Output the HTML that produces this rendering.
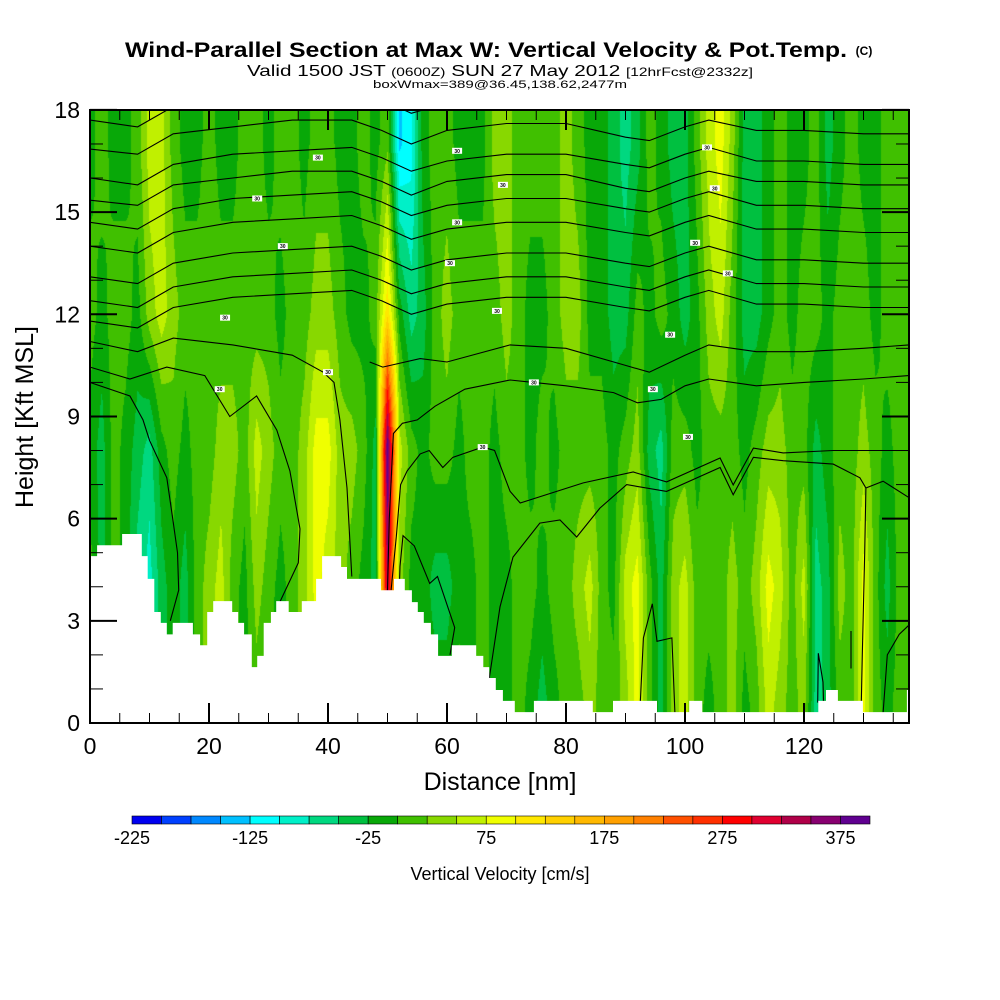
<!DOCTYPE html>
<html><head><meta charset="utf-8">
<style>
html,body{margin:0;padding:0;background:#fff;width:1000px;height:1000px;overflow:hidden}
#wrap{position:relative;width:1000px;height:1000px}
canvas{position:absolute;left:90px;top:110px}
svg{position:absolute;left:0;top:0}
text{font-family:"Liberation Sans",sans-serif;fill:#000}
</style></head>
<body>
<div id="wrap">
<canvas id="field" width="819" height="613"></canvas>
<svg id="svg" width="1000" height="1000">
<defs><clipPath id="plotclip"><rect x="90" y="110" width="819" height="613"/></clipPath></defs>
<g id="contours" clip-path="url(#plotclip)"></g>
<g id="terrain" clip-path="url(#plotclip)"></g>
<g id="labels" clip-path="url(#plotclip)"></g>
<rect x="90" y="110" width="819" height="613" fill="none" stroke="#000" stroke-width="2"/>
<g id="ticks"></g>
<text x="486" y="57" text-anchor="middle" font-weight="bold" font-size="21" textLength="722" lengthAdjust="spacingAndGlyphs">Wind-Parallel Section at Max W: Vertical Velocity &amp; Pot.Temp.</text>
<text x="864" y="55" text-anchor="middle" font-weight="bold" font-size="12">(C)</text>
<text x="500" y="76" text-anchor="middle" font-size="16" textLength="506" lengthAdjust="spacingAndGlyphs">Valid 1500 JST <tspan font-size="12">(0600Z)</tspan> SUN 27 May 2012 <tspan font-size="12">[12hrFcst@2332z]</tspan></text>
<text x="500" y="88" text-anchor="middle" font-size="11" textLength="254" lengthAdjust="spacingAndGlyphs">boxWmax=389@36.45,138.62,2477m</text>
<text x="500" y="790" text-anchor="middle" font-size="25">Distance [nm]</text>
<text x="0" y="0" transform="translate(33,417) rotate(-90)" text-anchor="middle" font-size="25">Height [Kft MSL]</text>
<g id="colorbar"></g>
<text x="500" y="880" text-anchor="middle" font-size="18">Vertical Velocity [cm/s]</text>
</svg>
</div>
<script>
// ---- data ----
const distances = [0,2,4,6,8,10,12,14,16,18,20,22,24,26,28,30,32,34,36,38,40,42,44,46,48,50,52,54,56,58,60,62,64,66,68,70,72,74,76,78,80,82,84,86,88,90,92,94,96,98,100,102,104,106,108,110,112,114,116,118,120,122,124,126,128,130,132,134,136,138];
const levels = [0.5,4,8,12,17];
const w05 = [12,12,12,12,-37,-87,-37,-10,-37,12, 37,62,12,-10,12,-10,-10,12,37,62, 62,12,-10,-10,-37,200,12,-10,-10,-10, -10,12,-10,12,-10,-10,12,-10,-37,-10, 12,12,37,12,12,37,87,12,-37,37, 62,12,-10,12,37,-10,12,62,37,12, 37,-62,-37,12,12,87,12,-10,12,12];
const w4 = [12,-37,12,-10,-62,-87,-37,-10,-37,12, 37,62,12,-10,37,12,-10,12,37,87, 62,37,12,-10,-37,340,37,-10,-10,-37, -37,-10,-10,12,-10,-10,12,12,-10,12, 12,37,62,12,-10,62,87,12,-37,37, 62,12,12,12,37,12,37,87,62,12, 62,-62,-37,37,12,87,12,-37,12,12];
const w8 = [-10,-37,12,-10,-37,-62,-10,12,-10,12, 12,37,37,12,62,37,12,12,37,87, 87,37,37,12,-37,400,62,12,-10,12, 12,-10,12,12,-10,12,12,-10,12,-10, 12,12,12,12,-10,12,37,-37,-62,12, 12,-10,12,12,12,-10,12,37,37,12, 12,-37,-10,12,12,37,12,-10,12,12];
const w12 = [12,-10,12,12,-10,37,62,37,12,12, 12,12,12,12,12,12,-10,12,12,37, 37,12,-10,-10,12,120,-10,-62,-37,12, 37,12,12,12,12,37,12,-10,-10,12, 37,37,-10,-10,-37,-37,12,-10,12,-10, -37,-10,37,62,12,-37,-37,-10,12,-10, 12,12,-10,12,12,12,-10,12,12,12];
const w17 = [-10,12,-10,-10,12,62,62,12,-10,-10, 12,-10,-10,12,12,-10,12,12,-10,12, 12,-10,-10,12,-10,20,-130,-110,-10,12, 12,-10,-10,-10,37,37,12,12,12,12, 37,12,-10,-10,-37,-62,-37,12,-10,-37, -37,12,62,87,37,-37,-37,-10,12,-10, -10,12,-37,-10,12,-10,-10,12,12,12];

const terrainStart = [0,1.2,5.4,8.7,9.7,10.8,11.9,12.9,13.9,17.3,18.5,19.7,20.7,23.9,24.9,25.9,27.2,28.1,29.2,30.4,31.3,33.4,35.6,38.0,39.0,42.2,43.2,48.9,51.1,52.9,54.1,55.1,56.1,57.3,58.5,60.8,64.9,66.1,67.1,68.2,69.4,71.4,74.6,84.5,87.9,95.3,100.7,102.9,122.4,123.7,125.7,129.9,137.3];
const terrainHeight = [4.9,5.22,5.55,4.9,4.23,3.26,2.94,2.6,2.94,2.6,2.28,3.26,3.58,3.26,2.94,2.6,1.64,1.97,2.94,3.26,3.58,3.26,3.58,4.23,4.9,4.58,4.23,3.9,4.23,3.9,3.55,3.26,2.94,2.6,1.97,2.28,1.97,1.64,1.32,0.97,0.65,0.32,0.65,0.32,0.65,0.32,0.65,0.32,0.65,0.97,0.65,0.32,0.97];

const contourX = [0,8,14,24,34,44,49,54,60,70,80,90,94,100,104,112,120,130,137.6];
const theta1 = [17.7,17.5,18.1,18.4,18.5,18.6,18.3,17.9,18.2,18.4,18.4,18.1,18.0,18.4,18.6,18.2,18.2,18.1,18.1];
const theta2 = [16.85,16.7,17.3,17.5,17.7,17.7,17.4,17.0,17.4,17.6,17.6,17.2,17.1,17.5,17.7,17.4,17.4,17.3,17.3];
const theta3 = [16.0,15.8,16.4,16.7,16.8,16.9,16.6,16.2,16.5,16.7,16.7,16.4,16.3,16.7,16.9,16.5,16.5,16.4,16.4];
const theta4 = [15.35,15.2,15.8,16.0,16.2,16.2,15.9,15.5,15.9,16.1,16.1,15.7,15.6,16.0,16.2,15.9,15.9,15.8,15.8];
const theta5 = [14.7,14.5,15.1,15.4,15.5,15.6,15.3,14.9,15.2,15.4,15.4,15.1,15.0,15.4,15.6,15.2,15.2,15.1,15.1];
const theta6 = [14.0,13.8,14.4,14.7,14.8,14.9,14.6,14.2,14.5,14.7,14.7,14.4,14.3,14.7,14.9,14.5,14.5,14.4,14.4];
const theta7 = [13.1,12.9,13.5,13.8,13.9,14.0,13.7,13.3,13.6,13.8,13.8,13.5,13.4,13.8,14.0,13.6,13.6,13.5,13.5];
const theta8 = [12.4,12.2,12.8,13.1,13.2,13.3,13.0,12.6,12.9,13.1,13.1,12.8,12.7,13.1,13.3,12.9,12.9,12.8,12.8];
const theta9 = [11.8,11.6,12.2,12.5,12.6,12.7,12.4,12.0,12.3,12.5,12.5,12.2,12.1,12.5,12.7,12.3,12.3,12.2,12.2];

const lowerContours = [
 [[0,10.0],[6.7,9.6],[8.9,8.9],[10,8.3],[12.9,7.2],[13.9,6.0],[14.7,5.0],[14.9,3.9],[13.5,3.0]],
 [[0,10.45],[6.7,10.1],[12.9,10.45],[19.3,10.2],[23.5,9.0],[28,9.6],[31.4,8.6],[33.6,7.4],[35.3,5.7],[35,4.7],[31.9,3.55]],
 [[0,11.2],[8,10.9],[14,11.3],[24,11.1],[34,10.8],[39.2,10.3],[41,10.0],[42,8.9],[43.2,6.9],[44,4.3]],
 [[47,10.6],[49.2,10.45],[55.5,10.7],[60,10.6],[70.6,11.1],[80,11.0],[90,10.5],[94,10.3],[100,10.8],[104,11.1],[112,10.9],[120,10.9],[130,11.0],[137.6,11.1]],
 [[50,3.9],[50.3,6.0],[51,8.5],[52.5,8.8],[55,8.9],[58,9.3],[63,9.8],[70.6,10.07],[80,9.9],[88,9.7],[92,9.4],[96,9.5],[100,9.9],[104,10.1],[112,9.9],[120,10.0],[130,10.1],[137.6,10.2]],
 [[50.6,3.9],[51.5,5.5],[52.2,7.0],[53.3,7.4],[55.5,7.9],[57,8.0],[59.3,7.5],[61,7.8],[66,8.1],[68,8.0],[70.6,6.8],[72.3,6.46],[82.9,7.05],[91.3,7.37],[96.9,7.08],[105.9,7.78],[108.1,6.99],[111.5,8.07],[116.5,7.93],[124.9,8.0],[137.8,8.0]],
 [[52.0,4.0],[52.1,4.6],[52.6,5.5],[54.5,5.2],[57.1,4.1],[58.4,4.3],[61.3,2.8],[60.5,2.0]],
 [[67,1.2],[68.9,3.41],[71.1,4.87],[75.6,5.87],[79,5.96],[81.8,5.46],[85.7,6.31],[90.2,7.0],[96.9,6.8],[105.9,7.5],[108.1,6.7],[111.5,7.8],[116.5,7.7],[124.9,7.6],[129.4,7.2],[130.4,6.9],[130.2,5],[129.8,2],[129.6,0.3]],
 [[130.4,6.9],[133.3,7.1],[137.8,6.6]],
 [[92.4,0.3],[93,2.5],[94.5,3.5],[95.3,2.4],[97.8,2.5],[98.3,0.3]],
 [[133.3,0.3],[134,2.0],[136,2.6],[137.8,2.9]],
 [[122.3,0.6],[122.4,2.05],[123.2,1.2],[123.3,0.6]],
 [[127.9,2.7],[127.9,1.6]]
];
const labelNm = [38.3,61.7,69.4,103.7,28.1,61.7,105.0,32.4,60.5,101.7,107.2,68.4,22.7,97.5,40.0,94.6,74.6,21.8,66.0,100.5];
const labelKft = [16.6,16.8,15.8,16.9,15.4,14.7,15.7,14.0,13.5,14.1,13.2,12.1,11.9,11.4,10.3,9.8,10.0,9.8,8.1,8.4];

const colorLevels = [-225,-200,-175,-150,-125,-100,-75,-50,-25,0,25,50,75,100,125,150,175,200,225,250,275,300,325,350,375,400];
const colors = ['#0000f0','#0040ff','#0088ff','#00c0ff','#00ffff','#00f0c8','#00d880','#00c040','#08a808','#40c000','#88d800','#c0f000','#f0ff00','#ffe800','#ffd000','#ffb800','#ffa000','#ff8000','#ff5000','#ff3000','#ff0000','#e00030','#b00048','#880070','#600090'];
const cbLabels = [-225,-125,-25,75,175,275,375];
const yTicks = [0,3,6,9,12,15,18];
const xTicks = [0,20,40,60,80,100,120];

// ---- scales ----
const X = nm => 90 + nm*5.95;
const Y = k => 723 - k*34.06;
const NS = 'http://www.w3.org/2000/svg';
function mk(tag, attrs, parent){const e=document.createElementNS(NS,tag);for(const k in attrs)e.setAttribute(k,attrs[k]);parent.appendChild(e);return e;}

// ---- field ----
const rows = [w05,w4,w8,w12,w17];
function wAt(nm,h){
  let i=Math.floor(nm/2); if(i<0)i=0; if(i>distances.length-2)i=distances.length-2;
  let t=(nm-distances[i])/(distances[i+1]-distances[i]); t=Math.max(0,Math.min(1,t));
  let j=0; while(j<levels.length-2 && h>levels[j+1]) j++;
  let s=(h-levels[j])/(levels[j+1]-levels[j]); s=Math.max(0,Math.min(1,s));
  const a=rows[j][i]*(1-t)+rows[j][i+1]*t, b=rows[j+1][i]*(1-t)+rows[j+1][i+1]*t;
  return a*(1-s)+b*s;
}
const rgb = colors.map(c=>[parseInt(c.substr(1,2),16),parseInt(c.substr(3,2),16),parseInt(c.substr(5,2),16)]);
(function(){
  const cv=document.getElementById('field'),ctx=cv.getContext('2d');
  const img=ctx.createImageData(819,613),d=img.data;
  for(let py=0;py<613;py++){
    const h=(723-(110+py+0.5))/34.06;
    for(let px=0;px<819;px++){
      const nm=(px+0.5)/5.95, v=wAt(nm,h);
      let b=Math.floor((v-colorLevels[0])/25); b=Math.max(0,Math.min(colors.length-1,b));
      const o=(py*819+px)*4; d[o]=rgb[b][0];d[o+1]=rgb[b][1];d[o+2]=rgb[b][2];d[o+3]=255;
    }
  }
  ctx.putImageData(img,0,0);
})();

// ---- contours ----
const cg=document.getElementById('contours');
[theta1,theta2,theta3,theta4,theta5,theta6,theta7,theta8,theta9].forEach(arr=>{
  const p=mk('polyline',{points:arr.map((k,i)=>X(contourX[i]).toFixed(1)+','+Y(k).toFixed(1)).join(' '),fill:'none',stroke:'#000','stroke-width':1.1},cg);
  
  
});
lowerContours.forEach(arr=>{
  const p=mk('polyline',{points:arr.map(q=>X(q[0]).toFixed(1)+','+Y(q[1]).toFixed(1)).join(' '),fill:'none',stroke:'#000','stroke-width':1.1},cg);
  
  
});

// ---- terrain ----
(function(){
  let d='M'+X(0)+','+Y(0);
  for(let i=0;i<terrainStart.length;i++){
    const x0=X(terrainStart[i]), x1=X(i+1<terrainStart.length?terrainStart[i+1]:137.7), y=Y(terrainHeight[i]);
    d+=' L'+x0.toFixed(1)+','+y.toFixed(1)+' L'+x1.toFixed(1)+','+y.toFixed(1);
  }
  d+=' L'+X(137.7)+','+Y(0)+' Z';
  const p=mk('path',{d:d,fill:'#fff',stroke:'none'},document.getElementById('terrain'));
  
  
})();

// ---- contour labels ----
const lg=document.getElementById('labels');
labelNm.forEach((n,i)=>{
  const g=mk('g',{},lg);
  
  
  mk('rect',{x:X(n)-5,y:Y(labelKft[i])-3,width:10,height:6,fill:'#fff'},g);
  const t=mk('text',{x:X(n),y:Y(labelKft[i])+2,'text-anchor':'middle','font-size':5,'font-weight':'bold'},g);
  t.textContent='30';
});

// ---- ticks ----
const tg=document.getElementById('ticks');
for(let k=0;k<=18;k++){
  const L=(k%3===0)?27:13;
  mk('line',{x1:90,y1:Y(k),x2:90+L,y2:Y(k),stroke:'#000','stroke-width':(k%3===0)?2:1},tg);
  mk('line',{x1:909,y1:Y(k),x2:909-L,y2:Y(k),stroke:'#000','stroke-width':(k%3===0)?2:1},tg);
}
yTicks.forEach(k=>{
  const t=mk('text',{x:80,y:Y(k)+8,'text-anchor':'end','font-size':23},tg);
  
  
  t.textContent=k;
});
for(let n=0;n<=135;n+=5){
  const L=(n%20===0)?20:10;
  mk('line',{x1:X(n),y1:723,x2:X(n),y2:723-L,stroke:'#000','stroke-width':(n%20===0)?2:1},tg);
  mk('line',{x1:X(n),y1:110,x2:X(n),y2:110+L,stroke:'#000','stroke-width':(n%20===0)?2:1},tg);
}
xTicks.forEach(n=>{
  const t=mk('text',{x:X(n),y:754,'text-anchor':'middle','font-size':23},tg);
  
  
  t.textContent=n;
});

// ---- colorbar ----
const cb=document.getElementById('colorbar');
const cbX=v=>132+(v-colorLevels[0])/(colorLevels[colorLevels.length-1]-colorLevels[0])*738;
colors.forEach((c,i)=>{
  const r=mk('rect',{x:cbX(colorLevels[i]),y:816,width:cbX(colorLevels[i+1])-cbX(colorLevels[i]),height:8,fill:c,stroke:'#000','stroke-width':0.6},cb);
  
  
});
cbLabels.forEach(v=>{
  const t=mk('text',{x:cbX(v),y:844,'text-anchor':'middle','font-size':18},cb);
  
  
  t.textContent=v;
});
</script>
</body></html>
